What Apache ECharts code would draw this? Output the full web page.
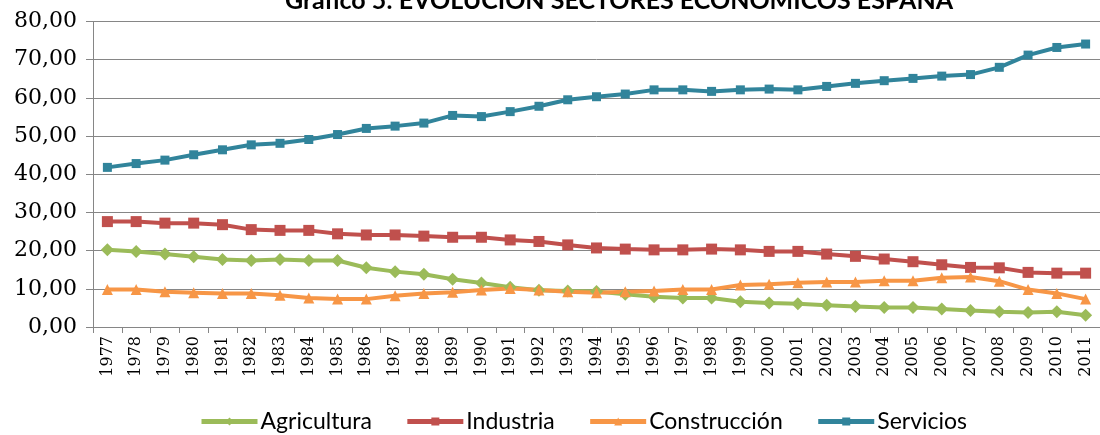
<!DOCTYPE html>
<html>
<head>
<meta charset="utf-8">
<script src="https://cdn.jsdelivr.net/npm/echarts@6/dist/echarts.min.js"></script>
<style>
  html, body { margin: 0; padding: 0; background: #fff; }
  #chart { width: 1100px; height: 435px; }
</style>
</head>
<body>
<div id="chart"></div>
<script>
var years = ['1977','1978','1979','1980','1981','1982','1983','1984','1985','1986',
             '1987','1988','1989','1990','1991','1992','1993','1994','1995','1996',
             '1997','1998','1999','2000','2001','2002','2003','2004','2005','2006',
             '2007','2008','2009','2010','2011'];

var agricultura = [20.2, 19.8, 19.1, 18.4, 17.7, 17.4, 17.7, 17.4, 17.4, 15.5,
                   14.5, 13.8, 12.5, 11.5, 10.4, 9.6, 9.4, 9.3, 8.6, 7.9,
                   7.6, 7.6, 6.6, 6.3, 6.1, 5.7, 5.4, 5.1, 5.1, 4.7,
                   4.3, 4.0, 3.8, 4.0, 3.1];

var industria = [27.6, 27.6, 27.2, 27.2, 26.8, 25.5, 25.3, 25.3, 24.4, 24.1,
                 24.1, 23.8, 23.5, 23.5, 22.8, 22.4, 21.5, 20.7, 20.4, 20.2,
                 20.2, 20.4, 20.2, 19.8, 19.8, 19.1, 18.5, 17.8, 17.1, 16.3,
                 15.6, 15.5, 14.3, 14.1, 14.1];

var construccion = [9.8, 9.8, 9.2, 9.0, 8.8, 8.8, 8.3, 7.6, 7.3, 7.3,
                    8.2, 8.8, 9.1, 9.7, 10.1, 9.7, 9.2, 9.0, 9.2, 9.4,
                    9.8, 9.8, 11.0, 11.2, 11.6, 11.8, 11.8, 12.1, 12.1, 12.9,
                    13.1, 12.0, 9.8, 8.8, 7.3];

var servicios = [41.8, 42.8, 43.7, 45.1, 46.4, 47.7, 48.1, 49.1, 50.4, 52.0,
                 52.6, 53.4, 55.4, 55.1, 56.4, 57.8, 59.5, 60.3, 61.0, 62.1,
                 62.1, 61.7, 62.1, 62.3, 62.1, 63.0, 63.8, 64.5, 65.1, 65.7,
                 66.1, 68.0, 71.2, 73.2, 74.1];

var yTicks = [0, 10, 20, 30, 40, 50, 60, 70, 80];

var chart = echarts.init(document.getElementById('chart'), null, { renderer: 'canvas' });

function lineSeries(name, data, color, symbol, size) {
    return {
        name: name,
        type: 'line',
        data: data,
        symbol: symbol,
        symbolSize: size,
        showAllSymbol: true,
        lineStyle: { color: color, width: 4 },
        itemStyle: { color: color },
        emphasis: { disabled: true },
        animation: false
    };
}

chart.setOption({
    backgroundColor: '#ffffff',
    title: {
        text: 'Gráfico 5: EVOLUCIÓN SECTORES ECONÓMICOS ESPAÑA',
        left: 614,
        textAlign: 'center',
        top: -17,
        textStyle: { fontFamily: 'Lato', fontWeight: 'bold', fontSize: 25, color: '#000' }
    },
    grid: { left: 93, top: 21.5, width: 1008, height: 305.5, containLabel: false },
    legend: {
        bottom: -3,
        left: 194,
        itemWidth: 56,
        itemHeight: 10,
        itemGap: 33,
        lineStyle: { width: 5 },
        textStyle: { fontFamily: 'Lato', fontSize: 23, color: '#000', padding: [0, 0, 0, -2] },
        data: ['Agricultura', 'Industria', 'Construcción', 'Servicios']
    },
    xAxis: {
        type: 'category',
        data: years,
        boundaryGap: true,
        axisLine: { lineStyle: { color: '#868686', width: 1 } },
        axisTick: { show: true, alignWithLabel: false, length: 6, lineStyle: { color: '#868686' } },
        axisLabel: {
            interval: 0,
            rotate: 90,
            margin: 9,
            fontFamily: 'DejaVu Serif',
            fontSize: 16,
            color: '#000'
        },
        splitLine: { show: false }
    },
    yAxis: {
        type: 'value',
        min: yTicks[0],
        max: yTicks[yTicks.length - 1],
        interval: 10,
        axisLine: { show: true, lineStyle: { color: '#868686', width: 1 } },
        axisTick: { show: true, length: 7, lineStyle: { color: '#868686' } },
        axisLabel: {
            margin: 16,
            fontFamily: 'DejaVu Serif',
            fontSize: 22,
            color: '#000',
            formatter: function (v) { return v.toFixed(2).replace('.', ','); }
        },
        splitLine: { show: true, lineStyle: { color: '#868686', width: 1 } }
    },
    series: [
        lineSeries('Agricultura', agricultura, '#9BBB59', 'diamond', 13),
        lineSeries('Industria', industria, '#C0504D', 'rect', 11),
        lineSeries('Construcción', construccion, '#F79646', 'triangle', 11),
        lineSeries('Servicios', servicios, '#31849B', 'rect', 9)
    ]
});
</script>
</body>
</html>
